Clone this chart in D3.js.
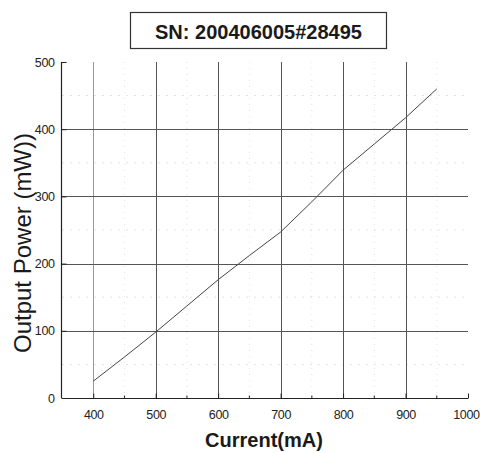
<!DOCTYPE html>
<html>
<head>
<meta charset="utf-8">
<script src="https://cdn.jsdelivr.net/npm/d3@7"></script>
<style>
  html, body { margin: 0; padding: 0; background: #fff; }
  svg { display: block; }
</style>
</head>
<body>
<svg id="chart" width="480" height="453"></svg>
<script>
const titleText = "SN: 200406005#28495";
const xLabel = "Current(mA)";
const yLabel = "Output Power (mW))";
const currentMA = [400, 450, 500, 550, 600, 650, 700, 750, 800, 850, 900, 950];
const powerMW   = [25, 61, 98, 137, 176, 212, 247, 292, 339, 378, 417, 460];
const xTicks = [400, 500, 600, 700, 800, 900, 1000];
const xMinorTicks = [450, 550, 650, 750, 850, 950];
const yTicks = [0, 100, 200, 300, 400, 500];
const yMinorTicks = [50, 150, 250, 350, 450];
const xGrid = [400, 500, 600, 700, 800, 900];
const yGrid = [100, 200, 300, 400];

const svg = d3.select("#chart");
const x = d3.scaleLinear().domain([350, 1000]).range([62, 468]);
const y = d3.scaleLinear().domain([0, 500]).range([398, 62]);
const tickFont = "'Liberation Sans Narrow', 'Liberation Sans', Arial, sans-serif";
const labelFont = "'Liberation Sans', Arial, sans-serif";

// title box
svg.append("rect").attr("x", 130.5).attr("y", 12.5).attr("width", 256).attr("height", 36)
  .attr("fill", "#fff").attr("stroke", "#333").attr("stroke-width", 1.2);
svg.append("text").attr("x", 258.5).attr("y", 39).attr("text-anchor", "middle")
  .attr("font-family", labelFont).attr("font-weight", "bold").attr("font-size", 20)
  .attr("textLength", 207).attr("lengthAdjust", "spacingAndGlyphs")
  .attr("fill", "#1a1a1a").text(titleText);

const g = svg.append("g");

// faint minor dotted grid
g.selectAll(".xminor").data(xMinorTicks).enter().append("line")
  .attr("x1", d => x(d)).attr("x2", d => x(d)).attr("y1", y(500)).attr("y2", y(0))
  .attr("stroke", "#bbb").attr("stroke-width", 0.7).attr("stroke-dasharray", "1,5").attr("opacity", 0.6);
g.selectAll(".yminor").data(yMinorTicks).enter().append("line")
  .attr("x1", x(350)).attr("x2", x(1000)).attr("y1", d => y(d)).attr("y2", d => y(d))
  .attr("stroke", "#bbb").attr("stroke-width", 0.7).attr("stroke-dasharray", "2,6").attr("opacity", 0.6);

// major grid
g.selectAll(".xg").data(xGrid).enter().append("line")
  .attr("x1", d => Math.round(x(d)) + 0.5).attr("x2", d => Math.round(x(d)) + 0.5)
  .attr("y1", y(500)).attr("y2", y(0))
  .attr("stroke", d => d === 400 ? "#999" : "#555").attr("stroke-width", 1);
g.selectAll(".yg").data(yGrid).enter().append("line")
  .attr("x1", x(350)).attr("x2", x(1000))
  .attr("y1", d => Math.round(y(d)) + 0.5).attr("y2", d => Math.round(y(d)) + 0.5)
  .attr("stroke", "#555").attr("stroke-width", 1);

// axes
const xAxis = d3.axisBottom(x).tickValues(xTicks).tickSize(-5).tickPadding(12).tickFormat(d3.format("d"));
const gx = svg.append("g").attr("transform", `translate(0,${y(0)+0.5})`).call(xAxis);
gx.select(".domain").attr("d", `M${x(350)},0H${x(1000)}`).attr("stroke", "#222").attr("stroke-width", 1.2);
gx.selectAll(".tick line").attr("stroke", "#222");
gx.selectAll(".tick text").attr("font-family", tickFont).attr("font-size", 12.5).attr("fill", "#222")
  .attr("letter-spacing", "-0.4");
gx.selectAll(".tick text").filter(d => d === 1000)
  .attr("text-anchor", "end").attr("dx", 11);
gx.selectAll(".minor").data(xMinorTicks).enter().append("line").attr("class", "minor")
  .attr("x1", d => x(d)).attr("x2", d => x(d)).attr("y1", 0).attr("y2", -3).attr("stroke", "#222");

const yAxis = d3.axisLeft(y).tickValues(yTicks).tickSize(-5).tickPadding(7).tickFormat(d3.format("d"));
const gy = svg.append("g").attr("transform", `translate(${x(350)-0.5},0)`).call(yAxis);
gy.select(".domain").attr("d", `M0,${y(500)}V${y(0)}`).attr("stroke", "#222").attr("stroke-width", 1.2);
gy.selectAll(".tick line").attr("stroke", "#222");
gy.selectAll(".tick text").attr("font-family", tickFont).attr("font-size", 12.5).attr("fill", "#222")
  .attr("letter-spacing", "-0.4");

// data line
const line = d3.line().x((d, i) => x(currentMA[i])).y(d => y(d));
svg.append("path").datum(powerMW).attr("d", line)
  .attr("fill", "none").attr("stroke", "#444").attr("stroke-width", 1);

// axis labels
svg.append("text").attr("x", 264).attr("y", 447).attr("text-anchor", "middle")
  .attr("font-family", labelFont).attr("font-weight", "bold").attr("font-size", 21)
  .attr("textLength", 118).attr("lengthAdjust", "spacingAndGlyphs")
  .attr("fill", "#1a1a1a").text(xLabel);
svg.append("text").attr("transform", "translate(31,243) rotate(-90)").attr("text-anchor", "middle")
  .attr("font-family", labelFont).attr("font-size", 24)
  .attr("textLength", 220).attr("lengthAdjust", "spacingAndGlyphs")
  .attr("fill", "#1a1a1a").text(yLabel);
</script>
</body>
</html>
